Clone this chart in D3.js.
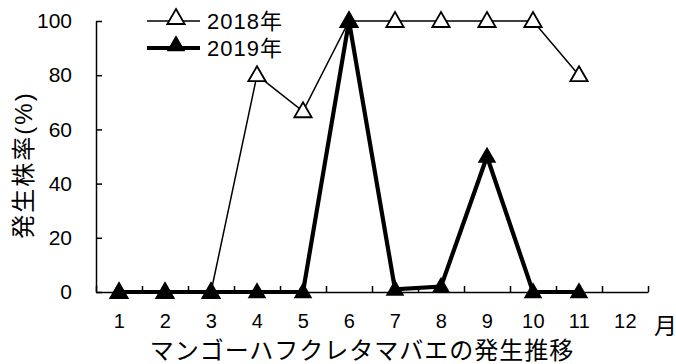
<!DOCTYPE html>
<html>
<head>
<meta charset="utf-8">
<script src="https://cdn.jsdelivr.net/npm/d3@7"></script>
<style>
  body { margin: 0; background: #fff; }
  text { font-family: "Liberation Sans", "Noto Sans CJK JP", sans-serif; fill: #000; }
</style>
</head>
<body>
<div id="chart"></div>
<script>
var months = [1, 2, 3, 4, 5, 6, 7, 8, 9, 10, 11, 12];
var values2018 = [0, 0, 0, 80, 66.7, 100, 100, 100, 100, 100, 80];
var values2019 = [0, 0, 0, 0, 0, 100, 1, 2, 50, 0, 0];
var yTicks = [0, 20, 40, 60, 80, 100];
var seriesNames = ["2018年", "2019年"];

var width = 676, height = 364;
var margin = {top: 21, right: 28, bottom: 72, left: 96};

var svg = d3.select("#chart")
  .append("svg")
  .attr("width", width)
  .attr("height", height);

var x = d3.scaleLinear()
  .domain([0.5, 12.5])
  .range([margin.left, width - margin.right]);

var y = d3.scaleLinear()
  .domain([0, 100])
  .range([height - margin.bottom, margin.top]);

// y axis, ticks point inward
var yAxis = svg.append("g")
  .attr("transform", "translate(" + margin.left + ",0)")
  .call(d3.axisLeft(y).tickValues(yTicks).tickSize(-6).tickSizeOuter(0).tickPadding(24));
yAxis.selectAll("text").style("font-size", "21px");
yAxis.selectAll("line, path").attr("stroke", "#000").attr("stroke-width", 1.5);

// x axis, ticks between months
var xAxis = svg.append("g")
  .attr("transform", "translate(0," + y(0) + ")")
  .call(d3.axisBottom(x).tickValues(d3.range(0.5, 13, 1)).tickSize(-6).tickSizeOuter(0).tickFormat(""));
xAxis.selectAll("line, path").attr("stroke", "#000").attr("stroke-width", 1.5);

// month labels
svg.append("g")
  .attr("transform", "translate(0," + y(0) + ")")
  .call(d3.axisBottom(x).tickValues(months).tickSize(0).tickPadding(22))
  .call(function(g) { g.select(".domain").remove(); })
  .selectAll("text")
  .style("font-size", "20px")
  .style("letter-spacing", "0.5px");

svg.append("text")
  .attr("x", x(12.5) + 6)
  .attr("y", y(0) + 42)
  .style("font-size", "23px")
  .text("月");

svg.append("text")
  .attr("x", 362)
  .attr("y", 359)
  .attr("text-anchor", "middle")
  .style("font-size", "24px")
  .style("letter-spacing", "1px")
  .text("マンゴーハフクレタマバエの発生推移");

svg.append("text")
  .attr("transform", "translate(32,165) rotate(-90)")
  .attr("text-anchor", "middle")
  .style("font-size", "24px")
  .style("letter-spacing", "2px")
  .text("発生株率(%)");

var tri = d3.symbol().type(d3.symbolTriangle).size(130);
var triFilled = d3.symbol().type(d3.symbolTriangle).size(150);

var line = d3.line()
  .x(function(d, i) { return x(months[i]); })
  .y(function(d) { return y(d); });

// 2018
svg.append("path")
  .datum(values2018)
  .attr("fill", "none")
  .attr("stroke", "#000")
  .attr("stroke-width", 1.5)
  .attr("d", line);

svg.append("g")
  .selectAll("path")
  .data(values2018)
  .enter()
  .append("path")
  .attr("d", tri)
  .attr("transform", function(d, i) { return "translate(" + x(months[i]) + "," + (y(d) + 1) + ")"; })
  .attr("fill", "#fff")
  .attr("stroke", "#000")
  .attr("stroke-width", 1.8);

// 2019
svg.append("path")
  .datum(values2019)
  .attr("fill", "none")
  .attr("stroke", "#000")
  .attr("stroke-width", 4.2)
  .attr("d", line);

svg.append("g")
  .selectAll("path")
  .data(values2019)
  .enter()
  .append("path")
  .attr("d", triFilled)
  .attr("transform", function(d, i) { return "translate(" + x(months[i]) + "," + (y(d) + 1) + ")"; })
  .attr("fill", "#000");

// legend
var legend = svg.append("g");
var legendRows = [
  {name: seriesNames[0], y: 21, width: 1.5, fill: "#fff"},
  {name: seriesNames[1], y: 48, width: 4.2, fill: "#000"}
];
legendRows.forEach(function(r) {
  legend.append("line")
    .attr("x1", 147).attr("x2", 200)
    .attr("y1", r.y).attr("y2", r.y)
    .attr("stroke", "#000")
    .attr("stroke-width", r.width);
  legend.append("path")
    .attr("d", r.fill === "#fff" ? tri : triFilled)
    .attr("transform", "translate(176," + (r.y - 2) + ")")
    .attr("fill", r.fill)
    .attr("stroke", r.fill === "#fff" ? "#000" : "none")
    .attr("stroke-width", 1.8);
  legend.append("text")
    .attr("x", 207)
    .attr("y", r.y + 8)
    .style("font-size", "22px")
    .style("letter-spacing", "1px")
    .text(r.name);
});
</script>
</body>
</html>
